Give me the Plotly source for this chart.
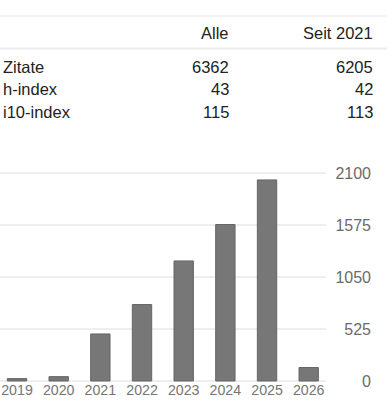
import plotly.graph_objects as go

years = ["2019", "2020", "2021", "2022", "2023", "2024", "2025", "2026"]
citations = [24, 44, 475, 772, 1212, 1580, 2030, 136]
y_ticks = [0, 525, 1050, 1575, 2100]

header = ["", "Alle", "Seit 2021"]
row_labels = ["Zitate", "h-index", "i10-index"]
col_all = ["6362", "43", "115"]
col_since = ["6205", "42", "113"]

W, H = 387, 413
FONT = "Liberation Sans, Arial, sans-serif"

fig = go.Figure()
fig.add_trace(go.Bar(
    x=years, y=citations, width=0.465,
    marker=dict(color="#777777", line=dict(color="#666666", width=1)),
    hoverinfo="skip",
))

def px(x):
    return x / W

def py(y):
    return 1 - y / H

annotations = []
text_col = "#222222"
row_y = [66.5, 88.5, 111.5]
annotations.append(dict(text=header[1], x=px(231), y=py(33.5), xanchor="right", yanchor="middle"))
annotations.append(dict(text=header[2], x=px(375), y=py(33.5), xanchor="right", yanchor="middle"))
for lab, a, s, yy in zip(row_labels, col_all, col_since, row_y):
    annotations.append(dict(text=lab, x=px(1), y=py(yy), xanchor="left", yanchor="middle"))
    annotations.append(dict(text=a, x=px(231), y=py(yy), xanchor="right", yanchor="middle"))
    annotations.append(dict(text=s, x=px(375), y=py(yy), xanchor="right", yanchor="middle"))
for a in annotations:
    a.update(xref="paper", yref="paper", showarrow=False,
             font=dict(family=FONT, size=16.5, color=text_col))

shapes = [
    dict(type="line", xref="paper", yref="paper", x0=0, x1=1, y0=py(16), y1=py(16),
         line=dict(color="#e3e3e3", width=1)),
    dict(type="line", xref="paper", yref="paper", x0=0, x1=1, y0=py(48.5), y1=py(48.5),
         line=dict(color="#ebebeb", width=2)),
]

# y scale: 0 at pixel 381, 2100 at pixel 173
upp = 2100 / (381 - 173)
pad = 10  # px of padding so inside tick labels at ends are not clipped
y_lo, y_hi = -pad * upp, 2100 + pad * upp

fig.update_layout(
    width=W, height=H,
    margin=dict(l=0, r=0, t=0, b=0),
    paper_bgcolor="white", plot_bgcolor="white",
    showlegend=False,
    annotations=annotations,
    shapes=shapes,
    xaxis=dict(
        domain=[0, 326 / W],
        range=[-0.408, 7.415],
        anchor="free", position=py(380),
        showgrid=False, zeroline=False, showline=False,
        ticks="", tickfont=dict(family=FONT, size=14.2, color="#757575"),
        fixedrange=True,
    ),
    yaxis=dict(
        domain=[py(381 + pad), py(173 - pad)],
        range=[y_lo, y_hi],
        side="right", anchor="free", position=374 / W,
        ticklabelposition="inside",
        tickvals=y_ticks, ticktext=[str(v) for v in y_ticks],
        showgrid=True, gridcolor="#eeeeee", gridwidth=1.5,
        zeroline=True, zerolinecolor="#eeeeee", zerolinewidth=1.5,
        showline=False, ticks="",
        tickfont=dict(family=FONT, size=16, color="#6b6b6b"),
        fixedrange=True,
    ),
)

fig.write_html("out.html", config={"displayModeBar": False},
               post_script="document.body.style.margin='0';")
